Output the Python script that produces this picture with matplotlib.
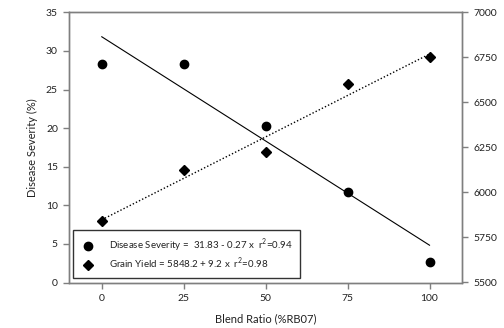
import matplotlib
matplotlib.use("Agg")
import matplotlib.pyplot as plt
import numpy as np

plt.rcParams['font.family'] = ['Lato', 'DejaVu Sans']
plt.rcParams['mathtext.fontset'] = 'custom'
plt.rcParams['mathtext.rm'] = 'Lato'

blend = [0, 25, 50, 75, 100]
severity = [28.3, 28.3, 20.3, 11.7, 2.7]
grain_yield = [5841, 6125, 6225, 6600, 6753]
sev_fit = (31.83, -0.27)
yld_fit = (5848.2, 9.2)
fit_x = [0, 100]

fig = plt.figure(figsize=(5.04, 3.28), dpi=100)
ax = fig.add_axes([69/504, 1-282.5/328, (462.3-69)/504, (282.5-12.3)/328])
ax2 = ax.twinx()

fx = np.array(fit_x)
ax.plot(fx, sev_fit[0] + sev_fit[1]*fx, color='black', lw=0.8, zorder=2)
ax2.plot(fx, yld_fit[0] + yld_fit[1]*fx, color='black', lw=1.0, ls=(0, (1, 1.5)), zorder=2)
h1, = ax.plot(blend, severity, 'o', color='black', ms=6, ls='none', zorder=3)
h2, = ax2.plot(blend, grain_yield, 'D', color='black', ms=5, ls='none', zorder=3)

ax.set_xlim(-10, 110)
ax.set_ylim(0, 35)
ax2.set_ylim(5500, 7000)
ax.set_xticks(blend)
ax.set_yticks(np.arange(0, 36, 5))
ax2.set_yticks(np.arange(5500, 7001, 250))

for a in (ax, ax2):
    for s in a.spines.values():
        s.set_color('#7f7f7f')
        s.set_linewidth(1.0)
    a.tick_params(direction='out', length=4, width=1, color='#7f7f7f',
                  labelsize=7.5, labelcolor='#222222', pad=4)

ax.set_xlabel('Blend Ratio (%RB07)', fontsize=8, color='#222222', labelpad=8)
ax.set_ylabel('Disease Severity (%)', fontsize=8, color='#222222', labelpad=6)

leg = ax.legend([h1, h2],
                ['Disease Severity =  31.83 - 0.27 x  r$^2$=0.94',
                 'Grain Yield = 5848.2 + 9.2 x  r$^2$=0.98'],
                loc='lower left', bbox_to_anchor=(0.01, 0.015), fontsize=7,
                frameon=True, fancybox=False, edgecolor='black',
                handlelength=1.5, handletextpad=1.5, borderpad=0.75,
                labelspacing=0.15, borderaxespad=0)
leg.get_frame().set_linewidth(1.0)
leg.set_zorder(5)
for t in leg.get_texts():
    t.set_color('#222222')

fig.savefig('out.png', dpi=100)
